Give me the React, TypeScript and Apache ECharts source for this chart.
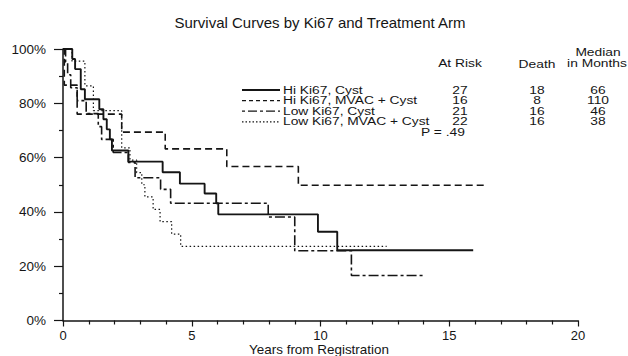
import React, { useEffect, useRef } from "react";
import * as echarts from "echarts";

const TITLE = "Survival Curves by Ki67 and Treatment Arm";
const X_NAME = "Years from Registration";

const groupNames = ["Hi Ki67, Cyst", "Hi Ki67, MVAC + Cyst", "Low Ki67, Cyst", "Low Ki67, MVAC + Cyst"];
const atRisk = ["27", "16", "21", "22"];
const deaths = ["18", "8", "16", "16"];
const medians = ["66", "110", "46", "38"];
const pValue = "P = .49";

// survival curves: time in years, survival in %
const hiCystT = [0, 0.36, 0.47, 0.69, 0.85, 1.41, 1.57, 1.7, 1.82, 1.9, 2.54, 3.87, 4.54, 5.5, 5.95, 6.03, 9.9, 10.65, 15.93];
const hiCystS = [100, 96.3, 92.6, 85.2, 81.5, 77.8, 74.1, 70.4, 66.7, 62.6, 58.5, 54.6, 50.4, 46.8, 43.2, 39.1, 32.7, 25.9, 25.9];

const hiMvacT = [0, 0.05, 0.55, 2.28, 3.97, 6.36, 9.14, 16.35];
const hiMvacS = [100, 86.7, 76.0, 69.4, 63.2, 56.7, 49.8, 49.8];

const lowCystT = [0, 0.1, 0.18, 0.3, 0.55, 0.9, 1.37, 1.5, 1.95, 2.54, 2.8, 3.79, 4.18, 7.97, 9.0, 11.2, 14.0];
const lowCystS = [100, 95.2, 90.5, 85.7, 81.0, 76.2, 71.4, 66.7, 61.9, 58.2, 52.6, 48.3, 43.2, 38.1, 25.7, 16.6, 16.6];

const lowMvacT = [0, 0.35, 0.85, 1.18, 2.28, 2.6, 2.86, 3.06, 3.18, 3.5, 3.77, 4.22, 4.57, 12.57];
const lowMvacS = [100, 95.5, 86.4, 77.3, 63.6, 59.1, 54.5, 50.0, 45.5, 40.9, 36.4, 31.8, 27.3, 27.3];

const FONT = "'Liberation Sans', Arial, sans-serif";
const INK = "#151515";

const zip = (t: number[], s: number[]) => t.map((v, i) => [v, s[i]]);

export default function App() {
  const ref = useRef<HTMLDivElement>(null);
  useEffect(() => {
    if (!ref.current) return;
    const chart = echarts.init(ref.current, undefined, { renderer: "svg" });
    const curves = [
      { t: hiCystT, s: hiCystS, dash: "solid" as any, w: 1.9 },
      { t: hiMvacT, s: hiMvacS, dash: [7, 4], w: 1.6 },
      { t: lowCystT, s: lowCystS, dash: [10, 3, 3, 3], w: 1.6 },
      { t: lowMvacT, s: lowMvacS, dash: [1.5, 2.5], w: 1.2 },
    ];
    const legendDash = ["solid", [4, 3], [3, 3, 9, 3], [1.5, 2]];
    const rowY = [90, 100.7, 111.2, 121.8];
    const lt = (text: string, x: number, y: number, align: string) => ({
      type: "text", x, y, scaleX: 1.2,
      style: { text, font: `11.5px ${FONT}`, fill: INK, textAlign: align, textVerticalAlign: "middle" },
    });
    const graphics: any[] = [
      { type: "text", x: 320, y: 22, style: { text: TITLE, font: `15px ${FONT}`, fill: INK, textAlign: "center", textVerticalAlign: "middle" } },
      { type: "text", x: 319, y: 350, scaleX: 1.12, style: { text: X_NAME, font: `12px ${FONT}`, fill: INK, textAlign: "center", textVerticalAlign: "middle" } },
      lt("At Risk", 460, 63, "center"),
      lt("Death", 537, 64.5, "center"),
      lt("Median", 598, 52, "center"),
      lt("in Months", 597, 63, "center"),
      lt(pValue, 443, 132, "center"),
    ];
    groupNames.forEach((n, i) => {
      const y = rowY[i];
      graphics.push({ type: "line", shape: { x1: 242, y1: y, x2: 280, y2: y }, style: { stroke: INK, lineWidth: i === 0 ? 1.8 : 1.2, lineDash: legendDash[i] } });
      graphics.push(lt(n, 283, y, "left"));
      graphics.push(lt(atRisk[i], 460, y, "center"));
      graphics.push(lt(deaths[i], 537, y, "center"));
      graphics.push(lt(medians[i], 598, y, "center"));
    });
    chart.setOption({
      animation: false,
      backgroundColor: "#ffffff",
      grid: { left: 63, right: 50, top: 49, bottom: 35.5, containLabel: false },
      xAxis: {
        type: "value", min: 0, max: 20, interval: 5,
        axisLine: { lineStyle: { color: INK, width: 1.5 } },
        axisTick: { show: true, length: 6, lineStyle: { color: INK, width: 1.2 } },
        minorTick: { show: true, splitNumber: 5, length: 4, lineStyle: { color: INK, width: 1.2 } },
        splitLine: { show: false },
        axisLabel: { fontSize: 13, fontFamily: FONT, color: INK, margin: 8 },
      },
      yAxis: {
        type: "value", min: 0, max: 100, interval: 20,
        axisLine: { show: true, lineStyle: { color: INK, width: 1.5 } },
        axisTick: { show: true, length: 9, lineStyle: { color: INK, width: 1.2 } },
        minorTick: { show: true, splitNumber: 2, length: 4, lineStyle: { color: INK, width: 1.2 } },
        splitLine: { show: false },
        axisLabel: { fontSize: 13.5, fontFamily: FONT, color: INK, margin: 17, formatter: (v: number) => `${v}%` },
      },
      series: curves.map((c, i) => ({
        type: "line",
        name: groupNames[i],
        step: "end",
        data: zip(c.t, c.s),
        symbol: "none",
        lineStyle: { color: INK, width: c.w, type: c.dash },
      })),
      graphic: graphics,
    });
    return () => chart.dispose();
  }, []);
  return <div ref={ref} style={{ position: "absolute", left: 0, top: 0, width: 628, height: 356, background: "#fff" }} />;
}
